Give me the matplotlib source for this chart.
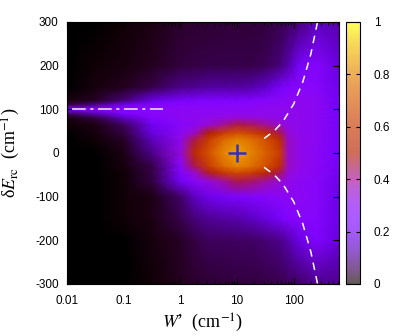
import numpy as np
import matplotlib
matplotlib.use("Agg")
import matplotlib.pyplot as plt
from matplotlib.ticker import LogLocator, NullFormatter

plt.rcParams['font.family'] = ['Liberation Sans', 'DejaVu Sans']
plt.rcParams['mathtext.fontset'] = 'stix'
plt.rcParams['axes.unicode_minus'] = False

# log10(W') columns and dE rows of the map
log_w = [-2, -1.5, -1, -0.5, 0, 0.25, 0.5, 0.75, 1, 1.25, 1.5, 1.75, 1.9, 2.1, 2.4, 2.8]
de = [-300, -200, -150, -100, -65, -45, -30, 0, 30, 45, 65, 80, 90, 100, 110, 120, 150, 200, 300]

# intensity, one row per dE value (bottom to top)
z = [
    [0, 0.001, 0.003, 0.006, 0.02, 0.03, 0.035, 0.038, 0.04, 0.042, 0.045, 0.05, 0.055, 0.065, 0.1, 0.09],
    [0, 0.002, 0.003, 0.008, 0.025, 0.045, 0.06, 0.062, 0.064, 0.066, 0.075, 0.09, 0.12, 0.18, 0.25, 0.17],
    [0, 0.002, 0.004, 0.012, 0.05, 0.08, 0.1, 0.11, 0.12, 0.14, 0.17, 0.22, 0.26, 0.28, 0.27, 0.18],
    [0, 0.002, 0.004, 0.015, 0.07, 0.14, 0.19, 0.22, 0.24, 0.26, 0.27, 0.29, 0.3, 0.3, 0.28, 0.18],
    [0, 0.002, 0.006, 0.04, 0.2, 0.28, 0.33, 0.39, 0.45, 0.43, 0.39, 0.34, 0.32, 0.3, 0.28, 0.19],
    [0, 0.002, 0.007, 0.045, 0.25, 0.35, 0.48, 0.6, 0.66, 0.62, 0.54, 0.45, 0.34, 0.31, 0.29, 0.2],
    [0, 0.002, 0.008, 0.05, 0.28, 0.45, 0.62, 0.74, 0.8, 0.76, 0.68, 0.56, 0.36, 0.32, 0.29, 0.21],
    [0, 0.003, 0.012, 0.09, 0.33, 0.55, 0.68, 0.8, 0.86, 0.8, 0.72, 0.62, 0.36, 0.32, 0.29, 0.22],
    [0.001, 0.006, 0.025, 0.13, 0.31, 0.46, 0.62, 0.74, 0.8, 0.76, 0.68, 0.56, 0.36, 0.32, 0.3, 0.22],
    [0.002, 0.01, 0.04, 0.17, 0.3, 0.36, 0.5, 0.62, 0.68, 0.64, 0.56, 0.46, 0.34, 0.31, 0.3, 0.22],
    [0.004, 0.015, 0.06, 0.2, 0.28, 0.3, 0.34, 0.4, 0.46, 0.44, 0.4, 0.35, 0.32, 0.31, 0.3, 0.22],
    [0.01, 0.04, 0.14, 0.26, 0.3, 0.31, 0.32, 0.33, 0.34, 0.34, 0.33, 0.32, 0.31, 0.31, 0.3, 0.22],
    [0.06, 0.13, 0.24, 0.28, 0.3, 0.3, 0.3, 0.31, 0.31, 0.31, 0.31, 0.31, 0.31, 0.31, 0.3, 0.22],
    [0.28, 0.29, 0.29, 0.29, 0.3, 0.3, 0.3, 0.3, 0.3, 0.3, 0.31, 0.31, 0.31, 0.31, 0.3, 0.22],
    [0.05, 0.1, 0.2, 0.26, 0.28, 0.28, 0.28, 0.28, 0.28, 0.29, 0.3, 0.3, 0.3, 0.31, 0.3, 0.21],
    [0.008, 0.025, 0.08, 0.18, 0.23, 0.24, 0.25, 0.25, 0.25, 0.26, 0.27, 0.29, 0.3, 0.31, 0.3, 0.21],
    [0.003, 0.008, 0.02, 0.05, 0.09, 0.1, 0.11, 0.11, 0.11, 0.12, 0.15, 0.22, 0.26, 0.28, 0.28, 0.19],
    [0.002, 0.004, 0.008, 0.02, 0.04, 0.045, 0.048, 0.048, 0.048, 0.05, 0.055, 0.08, 0.12, 0.22, 0.27, 0.17],
    [0, 0.002, 0.006, 0.015, 0.028, 0.032, 0.035, 0.036, 0.037, 0.038, 0.04, 0.05, 0.06, 0.08, 0.14, 0.12],
]

# dashed branches (upper one, lower one is its mirror)
branch_w = [30, 45, 64, 100, 145, 200, 263]
branch_de = [33, 50, 71, 112, 163, 226, 300]

# dash-dot line at dE = 100
line_w = [0.012, 0.5]
line_de = [100, 100]

# centre marker
centre_w = [10]
centre_de = [0]

xticks = [0.01, 0.1, 1, 10, 100]
xlabels = ["0.01", "0.1", "1", "10", "100"]
yticks = [-300, -200, -100, 0, 100, 200, 300]
cticks = [0, 0.2, 0.4, 0.6, 0.8, 1]
clabels = ["0", "0.2", "0.4", "0.6", "0.8", "1"]

fig = plt.figure(figsize=(3.97, 3.36), dpi=100)
ax = fig.add_axes([0.169, 0.155, 0.685, 0.78])
cax = fig.add_axes([0.8715, 0.155, 0.035, 0.78])

X, Y = np.meshgrid(10.0 ** np.array(log_w), np.array(de))
mesh = ax.pcolormesh(X, Y, np.array(z), cmap='gnuplot', vmin=0, vmax=1, shading='gouraud')

ax.plot(line_w, line_de, color='#f4eaff', lw=1.1, dashes=(9, 3, 2, 3))
ax.plot(branch_w, branch_de, color='white', lw=1.1, dashes=(5, 4))
ax.plot(branch_w, [-v for v in branch_de], color='white', lw=1.1, dashes=(5, 4))
ax.plot(centre_w, centre_de, marker='+', color='#3030c8', markersize=13, mew=1.8, ls='none')

ax.set_xscale('log')
ax.set_xlim(0.01, 630)
ax.set_ylim(-300, 300)
ax.set_xticks(xticks)
ax.set_xticklabels(xlabels)
ax.xaxis.set_minor_locator(LogLocator(base=10, subs=np.arange(2, 10)))
ax.xaxis.set_minor_formatter(NullFormatter())
ax.set_yticks(yticks)
ax.tick_params(which='major', direction='in', length=4, width=0.8, top=True, right=True,
               labelsize=8.5, color='black')
ax.tick_params(which='minor', direction='in', length=2, width=0.7, top=True, right=True)
ax.tick_params(axis='x', pad=8)
ax.tick_params(axis='y', pad=6)

ax.set_xlabel("$W$’  (cm$^{-1}$)", fontsize=13, family='Liberation Serif', va='top')
ax.xaxis.set_label_coords(0.5, -0.105)
ax.set_ylabel("δ$E_{\\mathrm{rc}}$  (cm$^{-1}$)", fontsize=13, family='Liberation Serif')
ax.yaxis.set_label_coords(-0.165, 0.5)

sm = plt.cm.ScalarMappable(cmap='gnuplot', norm=plt.Normalize(0, 1))
cb = fig.colorbar(sm, cax=cax, alpha=0.65)
cb.set_ticks(cticks)
cb.set_ticklabels(clabels)
cax.yaxis.set_ticks_position('both')
cax.tick_params(direction='in', length=3, width=0.8, labelsize=8.5, pad=10, labelright=True, labelleft=False)
cb.outline.set_linewidth(0.8)

plt.savefig("out.png", dpi=100)
